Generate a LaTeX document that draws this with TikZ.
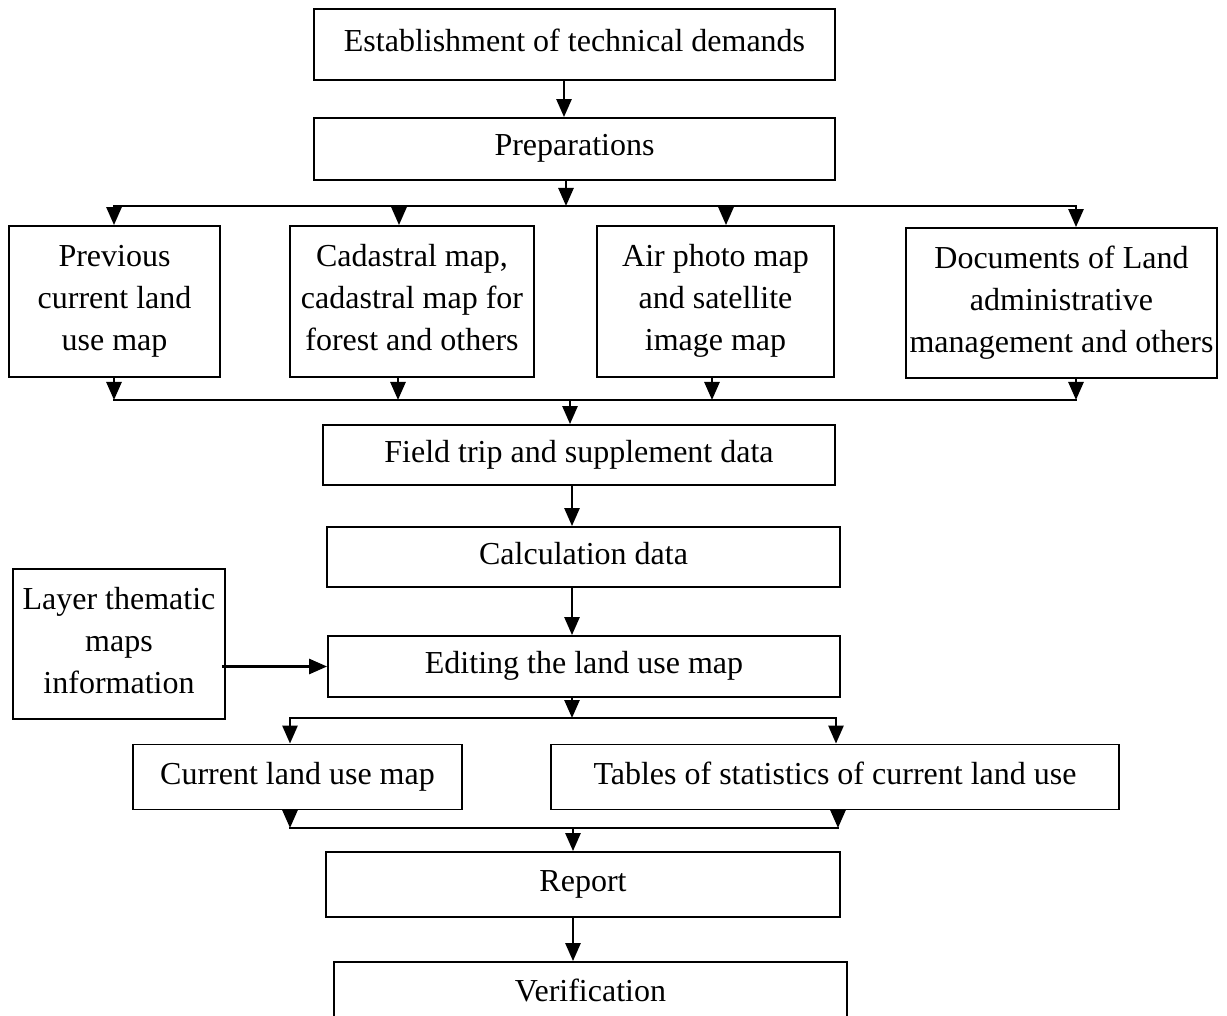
\documentclass[tikz,border=0pt]{standalone}
\usepackage{fontspec}
\setmainfont{Liberation Serif}
\usetikzlibrary{arrows.meta,calc}

\begin{document}
\begin{tikzpicture}[x=1pt,y=-1pt,
  box/.style={draw,line width=0.9pt,inner sep=1pt,align=center,
    font=\fontsize{16}{21}\selectfont,
    execute at begin node=\rule{0pt}{11pt},
    execute at end node=\rule[-4pt]{0pt}{4pt}},
  arr/.style={line width=1.3pt,-{Triangle[width=7.5pt,length=9pt]}},
  bus/.style={line width=1.3pt,line cap=rect}]
\clip (0,0) rectangle (613.5,508);

% main column
\node[box,minimum width=260.5pt,minimum height=35.5pt] (est) at (287.25,22.25) {Establishment of technical demands};
\node[box,minimum width=260.5pt,minimum height=31pt] (prep) at (287.25,74.5) {Preparations};

% sources
\node[box,minimum width=105.5pt,minimum height=75.5pt] (prev) at (57.25,150.75) {Previous\\current land\\use map};
\node[box,minimum width=122pt,minimum height=75.5pt] (cad) at (206,150.75) {Cadastral map,\\cadastral map for\\forest and others};
\node[box,minimum width=118.5pt,minimum height=75.5pt] (air) at (357.75,150.75) {Air photo map\\and satellite\\image map};
\node[box,minimum width=155.5pt,minimum height=75pt] (docs) at (530.75,151.5) {Documents of Land\\administrative\\management and others};

\node[box,minimum width=256pt,minimum height=30pt] (field) at (289.5,227.5) {Field trip and supplement data};
\node[box,minimum width=256.5pt,minimum height=30pt] (calc) at (291.75,278.5) {Calculation data};
\node[box,minimum width=256pt,minimum height=30.5pt] (edit) at (292,333.25) {Editing the land use map};
\node[box,minimum width=106pt,minimum height=75pt] (layer) at (59.5,322) {Layer thematic\\maps\\information};

% results
\node[box,minimum width=164.5pt,minimum height=32.5pt] (cur) at (148.75,388.5) {Current land use map};
\node[box,minimum width=284pt,minimum height=32.5pt] (tab) at (417.5,388.5) {Tables of statistics of current land use};
\node[box,minimum width=257pt,minimum height=32.5pt] (rep) at (291.5,442.25) {Report};
\node[box,minimum width=256.5pt,minimum height=32pt] (ver) at (295.25,497) {Verification};

% bus points
\coordinate (pb) at (283,103);
\coordinate (ta) at (57,103);
\coordinate (tb) at (199.5,103);
\coordinate (tc) at (363,103);
\coordinate (td) at (538,103);
\coordinate (ua) at (57,200);
\coordinate (ub) at (199,200);
\coordinate (uc) at (356,200);
\coordinate (ud) at (538,200);
\coordinate (uf) at (285,200);
\coordinate (sp) at (286,0);
\coordinate (v0) at (286,359);
\coordinate (va) at (145,359);
\coordinate (vb) at (418,359);
\coordinate (w0) at (286.5,414);
\coordinate (wa) at (145,414);
\coordinate (wb) at (419,414);

\draw[arr] ([xshift=-5.25pt]est.south) -- ([xshift=-5.25pt]prep.north);
\draw[arr] (prep.south -| pb) -- (pb);
\draw[bus] (ta) -- (td);
\draw[arr] (ta) -- (ta |- prev.north);
\draw[arr] (tb) -- (tb |- cad.north);
\draw[arr] (tc) -- (tc |- air.north);
\draw[arr] (td) -- (td |- docs.north);

\draw[arr] (prev.south -| ua) -- (ua);
\draw[arr] (cad.south -| ub) -- (ub);
\draw[arr] (air.south -| uc) -- (uc);
\draw[arr] (docs.south -| ud) -- (ud);
\draw[bus] (ua) -- (ud);
\draw[arr] (uf) -- (uf |- field.north);

\draw[arr] (field.south -| sp) -- (calc.north -| sp);
\draw[arr] (calc.south -| sp) -- (edit.north -| sp);
\draw[arr] ([xshift=-2pt]layer.east |- edit.west) -- (edit.west);

\draw[arr] (edit.south -| v0) -- (v0);
\draw[bus] (va) -- (vb);
\draw[arr] (va) -- (va |- cur.north);
\draw[arr] (vb) -- (vb |- tab.north);

\draw[arr] (cur.south -| wa) -- (wa);
\draw[arr] (tab.south -| wb) -- (wb);
\draw[bus] (wa) -- (wb);
\draw[arr] (w0) -- (w0 |- rep.north);
\draw[arr] (rep.south -| w0) -- (ver.north -| w0);

\end{tikzpicture}
\end{document}
